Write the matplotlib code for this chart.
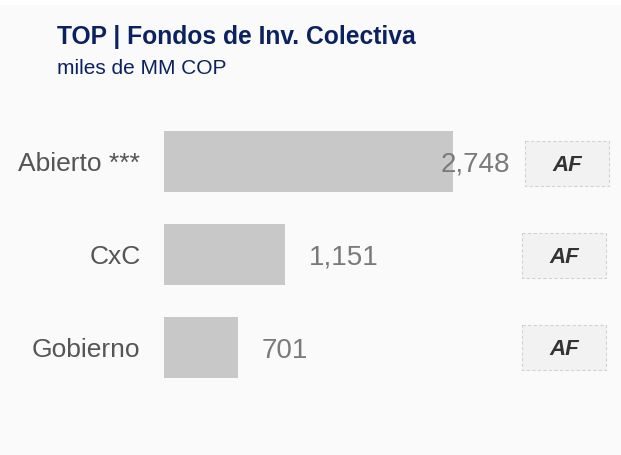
import numpy as np
import matplotlib.pyplot as plt
from matplotlib.patches import Rectangle

categories = ['Abierto ***', 'CxC', 'Gobierno']
values = [2748, 1151, 701]
value_labels = ['2,748', '1,151', '701']
badge_text = ['AF', 'AF', 'AF']

plt.rcParams['font.family'] = ['Liberation Sans', 'DejaVu Sans']

W, H = 621, 455
fig = plt.figure(figsize=(W / 100, H / 100), dpi=100, facecolor='#fafafa')

# thin white strip at the top
fig.patches.append(Rectangle((0, 1 - 5 / H), 1, 5 / H, transform=fig.transFigure,
                             facecolor='white', edgecolor='none', zorder=-1))

# axes: left at 164px, vertical span 115..394px
ax = fig.add_axes([164 / W, 1 - 394 / H, (W - 164) / W, (394 - 115) / H])
ax.set_facecolor('none')
px = 0.10517  # pixels per unit
ax.set_xlim(0, (W - 164) / px)
ax.set_ylim(2.5, -0.5)

idx = np.arange(len(categories))
ax.barh(idx, values, height=0.656, color='#c8c8c8', zorder=1)

ax.set_yticks(idx)
ax.set_yticklabels(categories, fontsize=19, color='#555555')
ax.tick_params(axis='y', length=0, pad=17)
ax.set_xticks([])
for s in ax.spines.values():
    s.set_visible(False)

# value labels (offsets in px from bar end)
label_dx = [-12, 24, 24]
for i, (v, t) in enumerate(zip(values, value_labels)):
    ax.annotate(t, (v, i), xytext=(label_dx[i] * 0.72, -10 * 0.72), textcoords='offset points',
                ha='left', va='baseline', fontsize=20, color='#7a7a7a', zorder=3)

# AF badges
badge_left = [525, 522, 522]
badge_top = [141, 233, 325]
for i, t in enumerate(badge_text):
    x0 = (badge_left[i] - 164) / px
    y0 = i + (badge_top[i] - (161.5 + 93 * i)) / 93
    r = Rectangle((x0, y0), 84 / px, 45 / 93, facecolor='#f2f2f2', edgecolor='#d2d2d2',
                  linewidth=0.8, linestyle=(0, (3, 2)), zorder=2, clip_on=False)
    ax.add_patch(r)
    ax.text(x0 + 42 / px, y0 + 22.5 / 93 + 0.02, t, ha='center', va='center', fontsize=16,
            fontweight='bold', fontstyle='italic', color='#333333', zorder=3)

fig.text(57 / W, 1 - 44 / H, 'TOP | Fondos de Inv. Colectiva', fontsize=17.7,
         fontweight='bold', color='#0b2260', ha='left', va='baseline')
fig.text(57 / W, 1 - 74 / H, 'miles de MM COP', fontsize=15, color='#0b2260',
         ha='left', va='baseline')

fig.savefig('out.png', dpi=100, facecolor='#fafafa')
